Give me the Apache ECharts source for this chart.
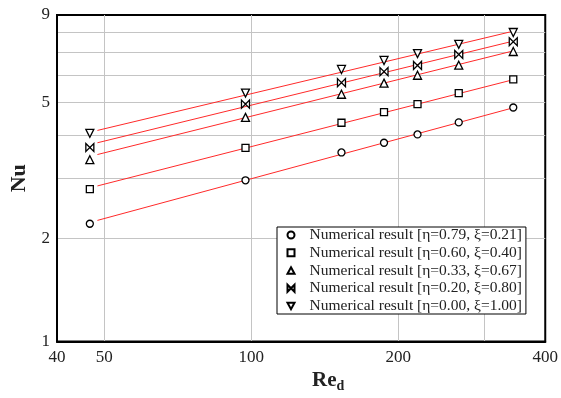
<!DOCTYPE html>
<html>
<head>
<meta charset="utf-8">
<script src="https://cdn.jsdelivr.net/npm/echarts@6/dist/echarts.min.js"></script>
<style>html,body{margin:0;padding:0;background:#fff}#c{width:561px;height:398px}</style>
</head>
<body>
<div id="c"></div>
<script>
// Reynolds number (x) of the numerical results
const reValues = [46.7, 97.3, 153, 187, 219, 266, 344];
// Nusselt numbers per case
const nuCase1 = [2.21, 2.96, 3.57, 3.81, 4.03, 4.37, 4.83]; // eta=0.79
const nuCase2 = [2.79, 3.68, 4.36, 4.68, 4.94, 5.32, 5.84]; // eta=0.60
const nuCase3 = [3.40, 4.52, 5.28, 5.69, 6.00, 6.42, 7.04]; // eta=0.33
const nuCase4 = [3.69, 4.94, 5.71, 6.15, 6.41, 6.90, 7.52]; // eta=0.20
const nuCase5 = [4.06, 5.32, 6.24, 6.63, 6.94, 7.39, 8.00]; // eta=0.00
// Fitted lines: endpoints
const fitRe = [48.4, 340];
const fit1 = [2.26, 4.80];
const fit2 = [2.85, 5.80];
const fit3 = [3.52, 7.04];
const fit4 = [3.81, 7.52];
const fit5 = [4.14, 8.04];
// Tick labels and grid
const xLabels = [40, 50, 100, 200, 400];
const xGrid = [50, 100, 200, 300];
const yLabels = [1, 2, 5, 9];
const yGrid = [2, 3, 4, 5, 6, 7, 8];
const names = [
  'Numerical result [η=0.79, ξ=0.21]',
  'Numerical result [η=0.60, ξ=0.40]',
  'Numerical result [η=0.33, ξ=0.67]',
  'Numerical result [η=0.20, ξ=0.80]',
  'Numerical result [η=0.00, ξ=1.00]'
];

const L = Math.log10;
const serif = 'Liberation Serif';
const symbols = [
  'circle',
  'rect',
  'path://M5,0 L10,9 L0,9 Z',
  'path://M0,0 L10,10 L10,0 L0,10 Z',
  'path://M0,0 L10,0 L5,9 Z'
];
const sizes = [7, 7, 8, 8, 8];
const nus = [nuCase1, nuCase2, nuCase3, nuCase4, nuCase5];
const fits = [fit1, fit2, fit3, fit4, fit5];

const series = [];
fits.forEach((f) => {
  series.push({
    type: 'line', silent: true, symbol: 'none',
    lineStyle: {color: '#ff2a2a', width: 1},
    data: fitRe.map((r, i) => [L(r), L(f[i])]),
    z: 2
  });
});
nus.forEach((arr, k) => {
  series.push({
    type: 'scatter', name: names[k],
    symbol: symbols[k], symbolSize: sizes[k],
    itemStyle: {color: '#fff', borderColor: '#000', borderWidth: 1.3, opacity: 1},
    data: reValues.map((r, i) => [L(r), L(arr[i])]),
    z: 5
  });
});

const chart = echarts.init(document.getElementById('c'), null, {renderer: 'canvas'});
chart.setOption({
  animation: false,
  backgroundColor: '#fff',
  grid: {left: 54, right: 12, top: 15, bottom: 53, show: true, borderColor: '#000', borderWidth: 2, backgroundColor: 'transparent'},
  xAxis: {
    type: 'value', min: L(40), max: L(400),
    name: '{a|Re}{b|d}', nameLocation: 'middle', nameGap: 24,
    nameTextStyle: {padding: [0, 0, 0, 54], rich: {
      a: {fontFamily: serif, fontWeight: 'bold', fontSize: 21, color: '#222'},
      b: {fontFamily: serif, fontWeight: 'bold', fontSize: 14, color: '#222', padding: [10, 0, 0, 0]}
    }},
    axisLine: {show: true, lineStyle: {color: '#000', width: 2}},
    axisTick: {show: false, customValues: xGrid.map(L)},
    axisLabel: {customValues: xLabels.map(L), fontFamily: serif, fontSize: 17, color: '#222', margin: 7,
      formatter: (v) => String(Math.round(Math.pow(10, v)))},
    splitLine: {show: true, lineStyle: {color: '#c4c4c4', width: 1}}
  },
  yAxis: {
    type: 'value', min: 0, max: L(9),
    name: 'Nu', nameLocation: 'middle', nameGap: 27, nameRotate: 90,
    nameTextStyle: {fontFamily: serif, fontWeight: 'bold', fontSize: 22, color: '#222'},
    axisLine: {show: true, lineStyle: {color: '#000', width: 2}},
    axisTick: {show: false, customValues: yGrid.map(L)},
    axisLabel: {customValues: yLabels.map(L), fontFamily: serif, fontSize: 17, color: '#222', margin: 7,
      formatter: (v) => String(Math.round(Math.pow(10, v)))},
    splitLine: {show: true, lineStyle: {color: '#c4c4c4', width: 1}}
  },
  legend: {
    orient: 'vertical', left: 277, top: 227,
    data: names,
    itemWidth: 7, itemHeight: 7, itemGap: 1.75,
    padding: [0, 4, 0, 9.5],
    backgroundColor: '#fff', borderColor: '#000', borderWidth: 1, borderRadius: 0,
    textStyle: {fontFamily: serif, fontSize: 15.5, color: '#222', lineHeight: 15, padding: [0, 0, 0, 10]},
    inactiveColor: '#000'
  },
  series: series
});
</script>
</body>
</html>
